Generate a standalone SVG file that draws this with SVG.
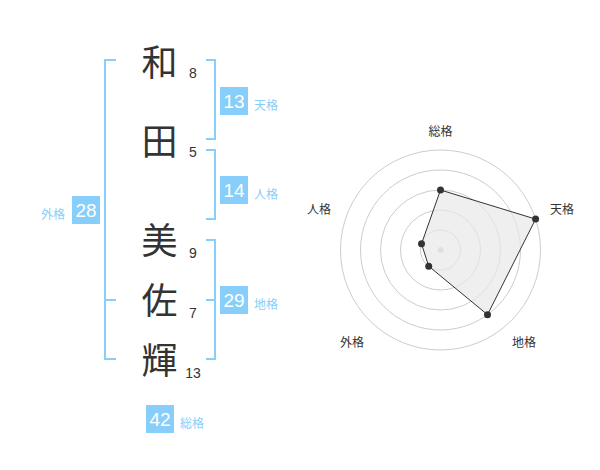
<svg xmlns="http://www.w3.org/2000/svg" width="600" height="470" viewBox="0 0 600 470">
<style>
.kj{font-family:"Noto Sans CJK JP","Liberation Sans",sans-serif;font-size:36px;fill:#333;text-anchor:middle}
.num{font-family:"Liberation Sans","Noto Sans CJK JP",sans-serif;font-size:14px;fill:#333;text-anchor:middle}
.br{fill:none;stroke:#87cefa;stroke-width:2}
.box{fill:#87cefa}
.bt{font-family:"Liberation Sans","Noto Sans CJK JP",sans-serif;font-size:19px;fill:#fff;text-anchor:middle}
.bl{font-family:"Noto Sans CJK JP","Liberation Sans",sans-serif;font-size:12px;fill:#87cefa}
.ring{fill:none;stroke:#ccc;stroke-width:1}
.rl{font-family:"Noto Sans CJK JP","Liberation Sans",sans-serif;font-size:12px;fill:#333;text-anchor:middle}
.pt{fill:#333}
</style>
<rect width="600" height="470" fill="#fff"/>
<g id="connectors">
<path class="br" d="M116,60 H105 V359 H116 M105,300 H116"/>
<path class="br" d="M206,60 H215 V139 H206"/>
<path class="br" d="M206,150 H215 V219 H206"/>
<path class="br" d="M206,240 H215 V359 H206 M206,300 H215"/>
</g>
<g id="char-wa"><text class="kj" x="159.5" y="76">和</text><text class="num" x="193" y="78">8</text></g>
<g id="char-ta"><text class="kj" x="159.5" y="155">田</text><text class="num" x="193" y="157">5</text></g>
<g id="char-mi"><text class="kj" x="159.5" y="254">美</text><text class="num" x="193" y="258">9</text></g>
<g id="char-sa"><text class="kj" x="159.5" y="314">佐</text><text class="num" x="193" y="318">7</text></g>
<g id="char-ki"><text class="kj" x="159.5" y="374">輝</text><text class="num" x="193" y="378">13</text></g>
<g id="tenkaku"><rect class="box" x="220" y="87" width="28" height="28"/><text class="bt" x="234" y="108">13</text><text class="bl" x="254" y="110">天格</text></g>
<g id="jinkaku"><rect class="box" x="220" y="176" width="28" height="28"/><text class="bt" x="234" y="197">14</text><text class="bl" x="254" y="199">人格</text></g>
<g id="chikaku"><rect class="box" x="220" y="286" width="28" height="28"/><text class="bt" x="234" y="307">29</text><text class="bl" x="254" y="309">地格</text></g>
<g id="gaikaku"><rect class="box" x="72" y="196" width="28" height="28"/><text class="bt" x="86" y="217">28</text><text class="bl" x="41" y="219">外格</text></g>
<g id="soukaku"><rect class="box" x="146" y="405" width="28" height="28"/><text class="bt" x="160" y="426">42</text><text class="bl" x="180" y="428">総格</text></g>
<g id="radar">
<circle class="ring" cx="440.5" cy="250" r="20"/>
<circle class="ring" cx="440.5" cy="250" r="40"/>
<circle class="ring" cx="440.5" cy="250" r="60"/>
<circle class="ring" cx="440.5" cy="250" r="80"/>
<circle class="ring" cx="440.5" cy="250" r="100"/>
<circle cx="440.5" cy="250" r="3" fill="#ccc"/>
<polygon points="440.5,190 535.6,219.1 487.5,314.7 428.7,266.2 421.5,243.8" fill="#e8e8e8" fill-opacity="0.7" stroke="#333" stroke-width="1"/>
<circle class="pt" cx="440.5" cy="190" r="3.5"/>
<circle class="pt" cx="535.6" cy="219.1" r="3.5"/>
<circle class="pt" cx="487.5" cy="314.7" r="3.5"/>
<circle class="pt" cx="428.7" cy="266.2" r="3.5"/>
<circle class="pt" cx="421.5" cy="243.8" r="3.5"/>
<text class="rl" x="440.5" y="136">総格</text>
<text class="rl" x="562" y="214">天格</text>
<text class="rl" x="524" y="347">地格</text>
<text class="rl" x="352" y="347">外格</text>
<text class="rl" x="319" y="214">人格</text>
</g>
</svg>
